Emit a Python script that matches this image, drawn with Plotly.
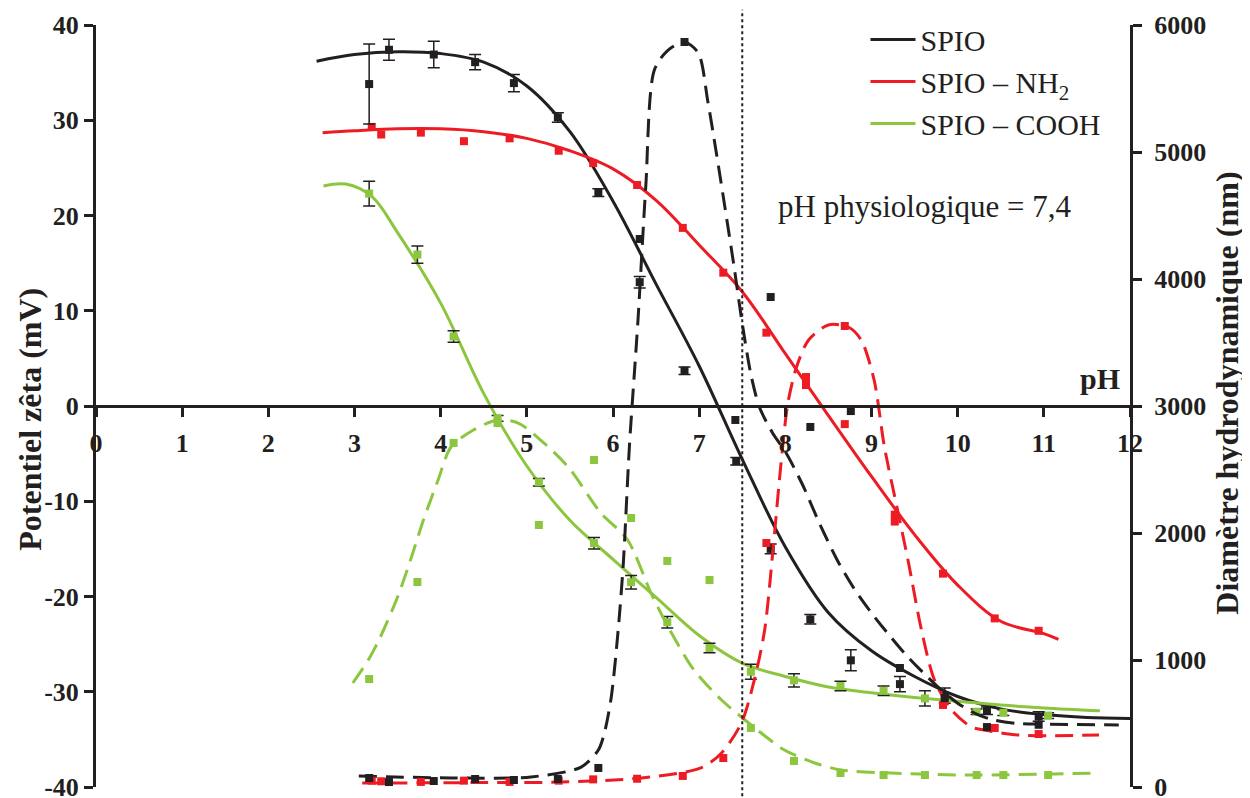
import plotly.graph_objects as go

# ---------------- data ----------------
# SPIO (black)
ph_spio = [3.17, 3.40, 3.92, 4.40, 4.85, 5.36, 5.83, 6.31, 6.83, 7.43, 7.83, 8.29, 8.76, 9.33, 9.85, 10.34, 10.94]
zeta_spio = [33.8, 37.4, 36.9, 36.1, 33.9, 30.3, 22.4, 13.0, 3.7, -5.8, -15.0, -22.4, -26.7, -29.2, -30.4, -32.0, -32.6]
zeta_spio_err = [4.2, 1.1, 1.4, 0.8, 0.9, 0.5, 0.4, 0.6, 0.4, 0.4, 0.5, 0.5, 1.1, 0.8, 0.8, 0.4, 0.5]
ph_spio_d = [3.17, 3.40, 3.92, 4.40, 4.85, 5.36, 5.83, 6.31, 6.83, 7.42, 7.83, 8.29, 8.76, 9.33, 9.85, 10.34, 10.94]
diam_spio = [71, 39, 47, 63, 55, 63, 150, 4315, 5866, 2890, 3858, 2835, 2960, 937, 700, 472, 490]

# SPIO - NH2 (red)
ph_nh2 = [3.20, 3.31, 3.77, 4.27, 4.80, 5.37, 5.77, 6.28, 6.81, 7.28, 7.78, 8.24, 8.69, 9.27, 9.83, 10.43, 10.94]
zeta_nh2 = [29.3, 28.5, 28.7, 27.8, 28.1, 26.8, 25.5, 23.2, 18.7, 14.0, 7.7, 2.2, -1.9, -11.4, -17.6, -22.3, -23.6]
diam_nh2 = [50, 45, 40, 50, 40, 50, 60, 65, 87, 228, 1921, 3228, 3630, 2090, 646, 465, 417]

# SPIO - COOH (green)
ph_cooh = [3.17, 3.73, 4.15, 4.66, 5.14, 5.78, 6.21, 6.63, 7.12, 7.60, 8.10, 8.64, 9.14, 9.62, 10.22, 10.53, 11.05]
zeta_cooh = [22.3, 15.9, 7.3, -1.3, -8.0, -14.4, -18.5, -22.7, -25.4, -27.9, -28.8, -29.4, -29.9, -30.7, -32.1, -32.2, -32.5]
zeta_cooh_err = [1.3, 0.9, 0.6, 0.3, 0.4, 0.6, 0.7, 0.6, 0.5, 0.8, 0.7, 0.5, 0.5, 0.8, 0.3, 0.3, 0.3]
diam_cooh = [850, 1614, 2709, 2866, 2063, 2575, 2118, 1780, 1630, 465, 205, 110, 94, 94, 94, 94, 94]

# smoothed trend curves (zeta, left axis)
fit_spio_ph = [2.56, 3.0, 3.5, 4.0, 4.5, 5.0, 5.5, 6.0, 6.5, 7.0, 7.5, 8.0, 8.5, 9.0, 9.5, 10.0, 10.5, 11.0, 11.5, 12.0]
fit_spio_zeta = [36.2, 36.9, 37.2, 37.0, 36.1, 33.6, 28.8, 21.5, 12.8, 4.2, -5.6, -14.8, -21.7, -25.7, -28.4, -30.5, -31.8, -32.4, -32.7, -32.8]
fit_nh2_ph = [2.63, 3.0, 3.5, 4.0, 4.5, 5.0, 5.5, 6.0, 6.5, 7.0, 7.5, 8.0, 8.5, 9.0, 9.5, 10.0, 10.5, 11.0, 11.17]
fit_nh2_zeta = [28.7, 28.9, 29.1, 29.1, 28.8, 28.1, 26.8, 24.9, 21.6, 16.9, 12.0, 5.5, -1.0, -7.4, -13.5, -18.8, -22.6, -23.9, -24.5]
fit_cooh_ph = [2.64, 2.9, 3.2, 3.5, 4.0, 4.5, 5.0, 5.5, 6.0, 6.5, 7.0, 7.5, 8.0, 8.5, 9.0, 9.5, 10.0, 10.5, 11.0, 11.65]
fit_cooh_zeta = [23.1, 23.3, 22.0, 18.2, 10.8, 1.3, -6.3, -12.0, -16.1, -20.1, -24.1, -27.0, -28.4, -29.5, -30.1, -30.6, -31.0, -31.4, -31.7, -32.0]

# smoothed trend curves (diameter, right axis)
fit_spio_d_ph = [3.05, 4.12, 5.05, 5.63, 5.83, 5.90, 5.98, 6.06, 6.12, 6.19, 6.29, 6.38, 6.48, 6.64, 6.83, 6.99, 7.10, 7.20, 7.30, 7.40, 7.50, 7.60, 7.70, 7.85, 8.0, 8.2, 8.4, 8.6, 8.8, 9.0, 9.2, 9.4, 9.6, 9.8, 10.0, 10.2, 10.4, 10.7, 11.0, 11.87]
fit_spio_d = [87, 71, 79, 157, 291, 425, 709, 1236, 1764, 2677, 3677, 4724, 5646, 5803, 5866, 5780, 5400, 4990, 4560, 4120, 3650, 3250, 2990, 2790, 2640, 2380, 2070, 1790, 1560, 1370, 1200, 1040, 900, 770, 660, 580, 530, 500, 495, 488]
fit_nh2_d_ph = [3.09, 4.5, 5.40, 6.33, 7.02, 7.26, 7.49, 7.64, 7.76, 7.86, 7.95, 8.03, 8.13, 8.27, 8.50, 8.73, 8.88, 9.03, 9.15, 9.31, 9.43, 9.58, 9.73, 9.93, 10.16, 10.31, 10.71, 11.64]
fit_nh2_d = [31, 35, 39, 71, 150, 268, 504, 843, 1236, 1890, 2551, 3024, 3307, 3520, 3638, 3622, 3520, 3205, 2677, 2157, 1764, 1236, 843, 606, 472, 449, 409, 409]
fit_cooh_d_ph = [2.98, 3.16, 3.30, 3.50, 3.65, 3.80, 3.97, 4.12, 4.38, 4.66, 4.90, 5.16, 5.48, 5.86, 6.17, 6.44, 6.64, 6.94, 7.26, 7.49, 7.72, 7.99, 8.34, 8.65, 9.23, 10.16, 11.65]
fit_cooh_d = [819, 1000, 1181, 1496, 1787, 2102, 2417, 2677, 2811, 2890, 2866, 2732, 2520, 2157, 1945, 1528, 1260, 921, 685, 551, 425, 291, 189, 134, 110, 94, 110]

names = ["SPIO", "SPIO – NH<sub>2</sub>", "SPIO – COOH"]
ytick_vals = [-40, -30, -20, -10, 0, 10, 20, 30, 40]
ytick_text = ["-40", "-30", "-20", "-10", "0", "10", "20", "30", "40"]
xtick_vals = list(range(0, 13))
y2tick_vals = [0, 1000, 2000, 3000, 4000, 5000, 6000]
ph_physio = 7.5

# ---------------- styling ----------------
BLACK = "#231f20"
RED = "#ed1c24"
GREEN = "#8cc63f"
SERIF = "Liberation Serif"
DASH = "18px,9px"

fig = go.Figure()

# dashed diameter curves (right axis)
for xs, ys, c in [(fit_cooh_d_ph, fit_cooh_d, GREEN), (fit_nh2_d_ph, fit_nh2_d, RED), (fit_spio_d_ph, fit_spio_d, BLACK)]:
    fig.add_trace(go.Scatter(x=xs, y=ys, yaxis="y2", mode="lines",
                             line=dict(color=c, width=3, dash=DASH, shape="spline", smoothing=0.8),
                             showlegend=False, hoverinfo="skip"))

# solid zeta curves (left axis)
for xs, ys, c, n in [(fit_spio_ph, fit_spio_zeta, BLACK, names[0]),
                     (fit_nh2_ph, fit_nh2_zeta, RED, names[1]),
                     (fit_cooh_ph, fit_cooh_zeta, GREEN, names[2])]:
    fig.add_trace(go.Scatter(x=xs, y=ys, mode="lines", name=n,
                             line=dict(color=c, width=3, shape="spline", smoothing=1.0)))

# diameter points
for xs, ys, c in [(ph_cooh, diam_cooh, GREEN), (ph_nh2, diam_nh2, RED), (ph_spio_d, diam_spio, BLACK)]:
    fig.add_trace(go.Scatter(x=xs, y=ys, yaxis="y2", mode="markers",
                             marker=dict(symbol="square", size=8, color=c),
                             showlegend=False))

# zeta points
fig.add_trace(go.Scatter(x=ph_nh2, y=zeta_nh2, mode="markers",
                         marker=dict(symbol="square", size=8, color=RED), showlegend=False))
fig.add_trace(go.Scatter(x=ph_cooh, y=zeta_cooh, mode="markers",
                         marker=dict(symbol="square", size=8, color=GREEN),
                         error_y=dict(type="data", array=zeta_cooh_err, color=BLACK, thickness=1.5, width=6),
                         showlegend=False))
fig.add_trace(go.Scatter(x=ph_spio, y=zeta_spio, mode="markers",
                         marker=dict(symbol="square", size=8, color=BLACK),
                         error_y=dict(type="data", array=zeta_spio_err, color=BLACK, thickness=1.5, width=6),
                         showlegend=False))

# physiological pH line
fig.add_shape(type="line", xref="x", yref="paper", x0=ph_physio, x1=ph_physio, y0=-0.02, y1=1.02,
              line=dict(color=BLACK, width=2, dash="dot"))

fig.add_annotation(x=11.65, y=2.9, xref="x", yref="y", text="pH", showarrow=False,
                   font=dict(family=SERIF, size=30, color=BLACK, weight="bold"))
fig.add_annotation(x=9.62, y=20.9, xref="x", yref="y", text="pH physiologique = 7,4", showarrow=False,
                   font=dict(family=SERIF, size=31, color=BLACK))

titlefont = dict(family=SERIF, size=32, color=BLACK, weight="bold")
fig.add_annotation(x=-0.0638, y=0.482, xref="paper", yref="paper", text="Potentiel zêta (mV)",
                   textangle=-90, showarrow=False, xanchor="center", yanchor="middle", font=titlefont)
fig.add_annotation(x=1.0935, y=0.517, xref="paper", yref="paper", text="Diamètre hydrodynamique (nm)",
                   textangle=-90, showarrow=False, xanchor="center", yanchor="middle", font=titlefont)

tickfont = dict(family=SERIF, size=26, color=BLACK, weight="bold")
axis_common = dict(showline=True, linewidth=3, linecolor=BLACK, ticks="outside", ticklen=9,
                   tickwidth=3, tickcolor=BLACK, showgrid=False, zeroline=False, tickfont=tickfont,
                   ticklabeloverflow="allow", automargin=False)

fig.update_layout(
    width=1242, height=790,
    margin=dict(l=88, r=120, t=17, b=11, autoexpand=False),
    paper_bgcolor="white", plot_bgcolor="white",
    xaxis=dict(range=[0, 12], tickvals=xtick_vals, anchor="free", position=0.5,
               ticklabelstandoff=4, **axis_common),
    yaxis=dict(range=[-40, 40], tickvals=ytick_vals, ticktext=ytick_text, **axis_common),
    yaxis2=dict(range=[0, 6000], tickvals=y2tick_vals, overlaying="y", side="right", anchor="x",
                ticklabelstandoff=7, **axis_common),
    legend=dict(x=0.6904, y=0.993, xref="container", yref="container", xanchor="left", yanchor="top",
                bgcolor="rgba(0,0,0,0)",
                font=dict(family=SERIF, size=30, color=BLACK), itemwidth=45, tracegroupgap=0),
    showlegend=True,
)

fig.write_html("out.html")
